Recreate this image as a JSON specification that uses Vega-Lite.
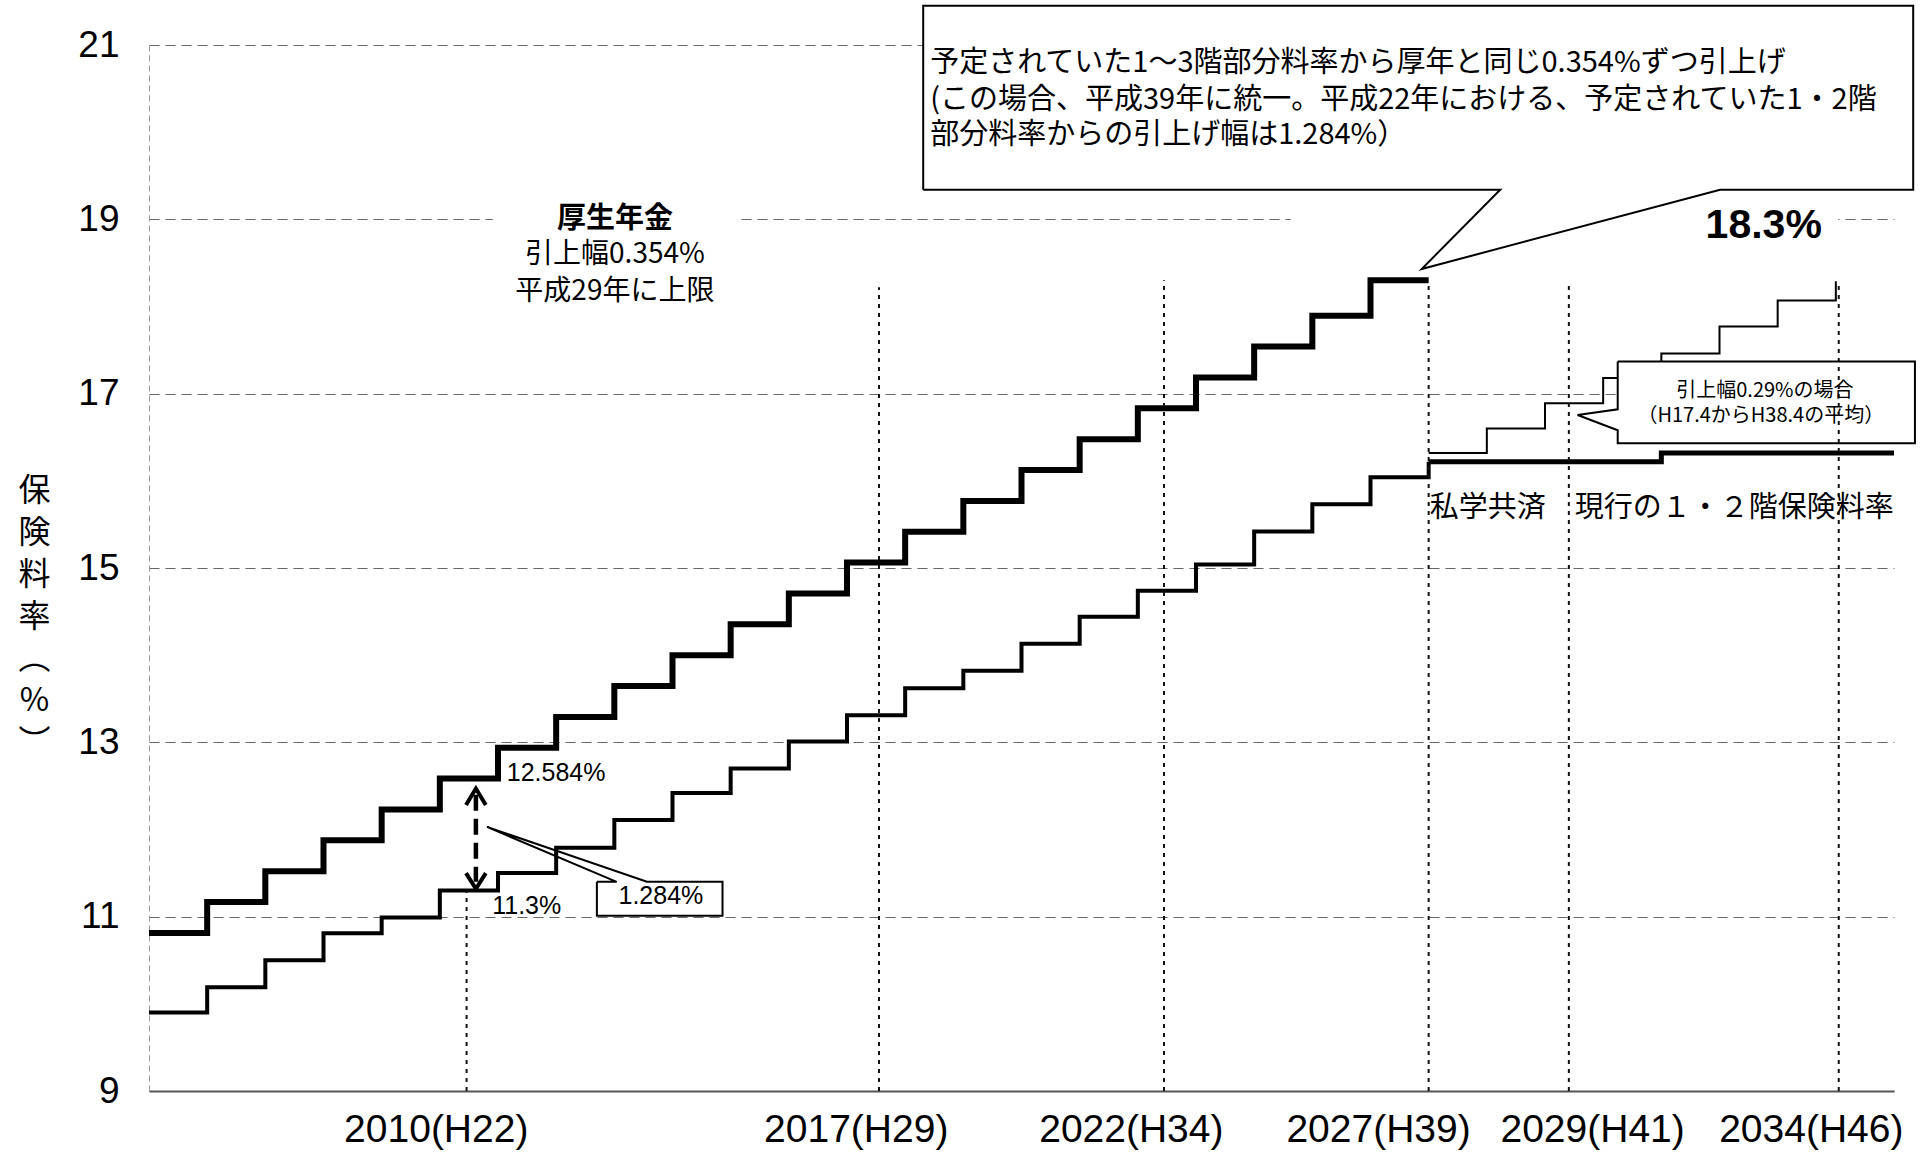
{
  "$schema": "https://vega.github.io/schema/vega-lite/v6.json",
  "width": 1745,
  "height": 1046,
  "autosize": {"type": "none"},
  "padding": {"left": 149, "top": 45, "right": 34, "bottom": 62},
  "background": "white",
  "config": {"view": {"stroke": null}, "font": "Liberation Sans"},
  "datasets": {
    "steps": [
      {"s": "upper", "t": 2005, "v": 10.814}, {"s": "upper", "t": 2006, "v": 11.168}, {"s": "upper", "t": 2007, "v": 11.522},
      {"s": "upper", "t": 2008, "v": 11.876}, {"s": "upper", "t": 2009, "v": 12.23}, {"s": "upper", "t": 2010, "v": 12.584},
      {"s": "upper", "t": 2011, "v": 12.938}, {"s": "upper", "t": 2012, "v": 13.292}, {"s": "upper", "t": 2013, "v": 13.646},
      {"s": "upper", "t": 2014, "v": 14.0}, {"s": "upper", "t": 2015, "v": 14.354}, {"s": "upper", "t": 2016, "v": 14.708},
      {"s": "upper", "t": 2017, "v": 15.062}, {"s": "upper", "t": 2018, "v": 15.416}, {"s": "upper", "t": 2019, "v": 15.77},
      {"s": "upper", "t": 2020, "v": 16.124}, {"s": "upper", "t": 2021, "v": 16.478}, {"s": "upper", "t": 2022, "v": 16.832},
      {"s": "upper", "t": 2023, "v": 17.186}, {"s": "upper", "t": 2024, "v": 17.54}, {"s": "upper", "t": 2025, "v": 17.894},
      {"s": "upper", "t": 2026, "v": 18.3}, {"s": "upper", "t": 2027, "v": 18.3},
      {"s": "lower", "t": 2005, "v": 9.90}, {"s": "lower", "t": 2006, "v": 10.19}, {"s": "lower", "t": 2007, "v": 10.50},
      {"s": "lower", "t": 2008, "v": 10.81}, {"s": "lower", "t": 2009, "v": 10.99}, {"s": "lower", "t": 2010, "v": 11.30},
      {"s": "lower", "t": 2011, "v": 11.50}, {"s": "lower", "t": 2012, "v": 11.79}, {"s": "lower", "t": 2013, "v": 12.11},
      {"s": "lower", "t": 2014, "v": 12.42}, {"s": "lower", "t": 2015, "v": 12.70}, {"s": "lower", "t": 2016, "v": 13.01},
      {"s": "lower", "t": 2017, "v": 13.31}, {"s": "lower", "t": 2018, "v": 13.62}, {"s": "lower", "t": 2019, "v": 13.82},
      {"s": "lower", "t": 2020, "v": 14.13}, {"s": "lower", "t": 2021, "v": 14.44}, {"s": "lower", "t": 2022, "v": 14.74},
      {"s": "lower", "t": 2023, "v": 15.04}, {"s": "lower", "t": 2024, "v": 15.42}, {"s": "lower", "t": 2025, "v": 15.73},
      {"s": "lower", "t": 2026, "v": 16.04}, {"s": "lower", "t": 2027, "v": 16.22},
      {"s": "current", "t": 2027, "v": 16.22}, {"s": "current", "t": 2031, "v": 16.32}, {"s": "current", "t": 2035, "v": 16.32},
      {"s": "case029", "t": 2027, "v": 16.32}, {"s": "case029", "t": 2028, "v": 16.60}, {"s": "case029", "t": 2029, "v": 16.89},
      {"s": "case029", "t": 2030, "v": 17.18}, {"s": "case029", "t": 2031, "v": 17.46}, {"s": "case029", "t": 2032, "v": 17.77},
      {"s": "case029", "t": 2033, "v": 18.07}, {"s": "case029", "t": 2034, "v": 18.29}
    ],
    "vrules": [
      {"t": 2010.46, "v": 9, "v2": 11.3},
      {"t": 2017.55, "v": 9, "v2": 18.22},
      {"t": 2022.45, "v": 9, "v2": 18.3},
      {"t": 2027.0, "v": 9, "v2": 18.27},
      {"t": 2029.41, "v": 9, "v2": 18.29},
      {"t": 2034.05, "v": 9, "v2": 18.29}
    ],
    "boxes": [
      {"b": "big", "t": 2018.31, "t2": 2035.33, "v": 19.34, "v2": 21.45},
      {"b": "small", "t": 2030.25, "t2": 2035.36, "v": 16.43, "v2": 17.37},
      {"b": "mid", "t": 2012.70, "t2": 2014.86, "v": 11.01, "v2": 11.40},
      {"b": "kosei", "t": 2010.91, "t2": 2015.16, "v": 17.96, "v2": 19.22},
      {"b": "gap19", "t": 2024.63, "t2": 2034.04, "v": 18.70, "v2": 19.25}
    ],
    "outline": [
      {"g": "big", "o": 1, "t": 2018.31, "v": 19.34}, {"g": "big", "o": 2, "t": 2028.23, "v": 19.34},
      {"g": "big", "o": 3, "t": 2026.88, "v": 18.43}, {"g": "big", "o": 4, "t": 2032.01, "v": 19.34},
      {"g": "big", "o": 5, "t": 2035.33, "v": 19.34}, {"g": "big", "o": 6, "t": 2035.33, "v": 21.45},
      {"g": "big", "o": 7, "t": 2018.31, "v": 21.45}, {"g": "big", "o": 8, "t": 2018.31, "v": 19.34},
      {"g": "small", "o": 1, "t": 2030.25, "v": 17.37}, {"g": "small", "o": 2, "t": 2035.36, "v": 17.37},
      {"g": "small", "o": 3, "t": 2035.36, "v": 16.43}, {"g": "small", "o": 4, "t": 2030.25, "v": 16.43},
      {"g": "small", "o": 5, "t": 2030.25, "v": 16.58}, {"g": "small", "o": 6, "t": 2029.56, "v": 16.755},
      {"g": "small", "o": 7, "t": 2030.25, "v": 16.82}, {"g": "small", "o": 8, "t": 2030.25, "v": 17.37},
      {"g": "mid", "o": 1, "t": 2012.70, "v": 11.40}, {"g": "mid", "o": 2, "t": 2013.04, "v": 11.40},
      {"g": "mid", "o": 3, "t": 2010.81, "v": 12.03}, {"g": "mid", "o": 4, "t": 2013.56, "v": 11.40},
      {"g": "mid", "o": 5, "t": 2014.86, "v": 11.40}, {"g": "mid", "o": 6, "t": 2014.86, "v": 11.01},
      {"g": "mid", "o": 7, "t": 2012.70, "v": 11.01}, {"g": "mid", "o": 8, "t": 2012.70, "v": 11.40}
    ],
    "shaft": [
      {"t": 2010.62, "v": 12.40}, {"t": 2010.62, "v": 11.40}
    ],
    "chevrons": [
      {"g": "up", "o": 1, "t": 2010.45, "v": 12.28}, {"g": "up", "o": 2, "t": 2010.62, "v": 12.47}, {"g": "up", "o": 3, "t": 2010.79, "v": 12.28},
      {"g": "dn", "o": 1, "t": 2010.45, "v": 11.50}, {"g": "dn", "o": 2, "t": 2010.62, "v": 11.32}, {"g": "dn", "o": 3, "t": 2010.79, "v": 11.50}
    ],
    "texts": [
      {"k": "callout", "txt": "予定されていた1～3階部分料率から厚年と同じ0.354%ずつ引上げ", "t": 2018.43, "v": 20.79},
      {"k": "callout", "txt": "(この場合、平成39年に統一。平成22年における、予定されていた1・2階", "t": 2018.43, "v": 20.37},
      {"k": "callout", "txt": "部分料率からの引上げ幅は1.284%）", "t": 2018.43, "v": 19.97},
      {"k": "kosei_b", "txt": "厚生年金", "t": 2013.01, "v": 19.0},
      {"k": "kosei", "txt": "引上幅0.354%", "t": 2013.01, "v": 18.59},
      {"k": "kosei", "txt": "平成29年に上限", "t": 2013.01, "v": 18.17},
      {"k": "big", "txt": "18.3%", "t": 2032.76, "v": 18.92},
      {"k": "val_left", "txt": "12.584%", "t": 2011.15, "v": 12.65},
      {"k": "val_left", "txt": "11.3%", "t": 2010.90, "v": 11.12},
      {"k": "val_center", "txt": "1.284%", "t": 2013.80, "v": 11.24},
      {"k": "small", "txt": "引上幅0.29%の場合", "t": 2032.78, "v": 17.03},
      {"k": "small", "txt": "（H17.4からH38.4の平均）", "t": 2032.71, "v": 16.74},
      {"k": "shigaku", "txt": "私学共済　現行の１・２階保険料率", "t": 2027.02, "v": 15.69}
    ]
  },
  "encoding": {
    "x": {
      "field": "t", "type": "quantitative",
      "scale": {"domain": [2005, 2035], "nice": false, "zero": false},
      "axis": {
        "values": [2009.93, 2017.15, 2021.88, 2026.13, 2029.81, 2033.57],
        "labelExpr": "datum.value < 2012 ? '2010(H22)' : datum.value < 2019 ? '2017(H29)' : datum.value < 2024 ? '2022(H34)' : datum.value < 2028 ? '2027(H39)' : datum.value < 2031 ? '2029(H41)' : '2034(H46)'",
        "title": null, "grid": false, "ticks": false, "tickSize": 0,
        "labelPadding": 50, "labelBaseline": "alphabetic", "labelLimit": 0,
        "labelFont": "Liberation Sans", "labelFontSize": 39, "labelColor": "black",
        "domainColor": "#555", "domainWidth": 2,
        "labelOverlap": false, "labelFlush": false, "labelBound": false
      }
    },
    "y": {
      "field": "v", "type": "quantitative",
      "scale": {"domain": [9, 21], "nice": false, "zero": false},
      "axis": {
        "values": [9, 11, 13, 15, 17, 19, 21],
        "title": ["保", "険", "料", "率", "︵", "%", "︶"],
        "titleAngle": 0, "titleX": -115, "titleY": 445, "titleAlign": "center", "titleBaseline": "middle",
        "titleLineHeight": 42, "titleFont": "Noto Sans CJK JP", "titleFontSize": 32, "titleFontWeight": "normal", "titleColor": "black",
        "grid": true, "gridDash": [10, 6], "gridColor": "#666", "gridWidth": 1.2,
        "ticks": false, "tickSize": 0, "labelPadding": 30,
        "labelFont": "Liberation Sans", "labelFontSize": 37, "labelColor": "black", "labelFlush": false,
        "domainDash": [6, 4], "domainColor": "#999", "domainWidth": 1
      }
    }
  },
  "layer": [
    {"data": {"name": "steps"}, "transform": [{"filter": "datum.s === 'lower'"}],
     "mark": {"type": "line", "interpolate": "step-after", "color": "black", "strokeWidth": 4, "strokeJoin": "miter"}},
    {"data": {"name": "steps"}, "transform": [{"filter": "datum.s === 'current'"}],
     "mark": {"type": "line", "interpolate": "step-after", "color": "black", "strokeWidth": 5, "strokeJoin": "miter"}},
    {"data": {"name": "steps"}, "transform": [{"filter": "datum.s === 'case029'"}],
     "mark": {"type": "line", "interpolate": "step-after", "color": "black", "strokeWidth": 2, "strokeJoin": "miter"}},
    {"data": {"name": "steps"}, "transform": [{"filter": "datum.s === 'upper'"}],
     "mark": {"type": "line", "interpolate": "step-after", "color": "black", "strokeWidth": 6, "strokeJoin": "miter"}},
    {"data": {"name": "boxes"},
     "mark": {"type": "rect", "fill": "white", "strokeWidth": 0},
     "encoding": {"x2": {"field": "t2"}, "y2": {"field": "v2"}}},
    {"data": {"name": "vrules"},
     "mark": {"type": "rule", "color": "#111", "strokeWidth": 2, "strokeDash": [4, 5]},
     "encoding": {"y2": {"field": "v2"}}},
    {"data": {"name": "outline"},
     "mark": {"type": "line", "color": "black", "strokeWidth": 2, "strokeJoin": "miter"},
     "encoding": {"detail": {"field": "g"}, "order": {"field": "o", "type": "quantitative"}}},
    {"data": {"name": "shaft"},
     "mark": {"type": "line", "color": "black", "strokeWidth": 4.5, "strokeDash": [16, 8]},
     "encoding": {}},
    {"data": {"name": "chevrons"},
     "mark": {"type": "line", "color": "black", "strokeWidth": 4, "strokeJoin": "miter"},
     "encoding": {"detail": {"field": "g"}, "order": {"field": "o", "type": "quantitative"}}},
    {"data": {"name": "texts"}, "transform": [{"filter": "datum.k === 'callout'"}],
     "mark": {"type": "text", "align": "left", "baseline": "middle", "font": "Noto Sans CJK JP", "fontSize": 29, "color": "black"},
     "encoding": {"text": {"field": "txt"}}},
    {"data": {"name": "texts"}, "transform": [{"filter": "datum.k === 'kosei_b'"}],
     "mark": {"type": "text", "align": "center", "baseline": "middle", "font": "Noto Sans CJK JP", "fontSize": 29, "fontWeight": "bold", "color": "black"},
     "encoding": {"text": {"field": "txt"}}},
    {"data": {"name": "texts"}, "transform": [{"filter": "datum.k === 'kosei'"}],
     "mark": {"type": "text", "align": "center", "baseline": "middle", "font": "Noto Sans CJK JP", "fontSize": 28, "color": "black"},
     "encoding": {"text": {"field": "txt"}}},
    {"data": {"name": "texts"}, "transform": [{"filter": "datum.k === 'big'"}],
     "mark": {"type": "text", "align": "center", "baseline": "middle", "font": "Liberation Sans", "fontSize": 41, "fontWeight": "bold", "color": "black"},
     "encoding": {"text": {"field": "txt"}}},
    {"data": {"name": "texts"}, "transform": [{"filter": "datum.k === 'val_left'"}],
     "mark": {"type": "text", "align": "left", "baseline": "middle", "font": "Liberation Sans", "fontSize": 25, "color": "black"},
     "encoding": {"text": {"field": "txt"}}},
    {"data": {"name": "texts"}, "transform": [{"filter": "datum.k === 'val_center'"}],
     "mark": {"type": "text", "align": "center", "baseline": "middle", "font": "Liberation Sans", "fontSize": 25, "color": "black"},
     "encoding": {"text": {"field": "txt"}}},
    {"data": {"name": "texts"}, "transform": [{"filter": "datum.k === 'small'"}],
     "mark": {"type": "text", "align": "center", "baseline": "middle", "font": "Noto Sans CJK JP", "fontSize": 20, "color": "black"},
     "encoding": {"text": {"field": "txt"}}},
    {"data": {"name": "texts"}, "transform": [{"filter": "datum.k === 'shigaku'"}],
     "mark": {"type": "text", "align": "left", "baseline": "middle", "font": "Noto Sans CJK JP", "fontSize": 29, "color": "black"},
     "encoding": {"text": {"field": "txt"}}}
  ]
}
